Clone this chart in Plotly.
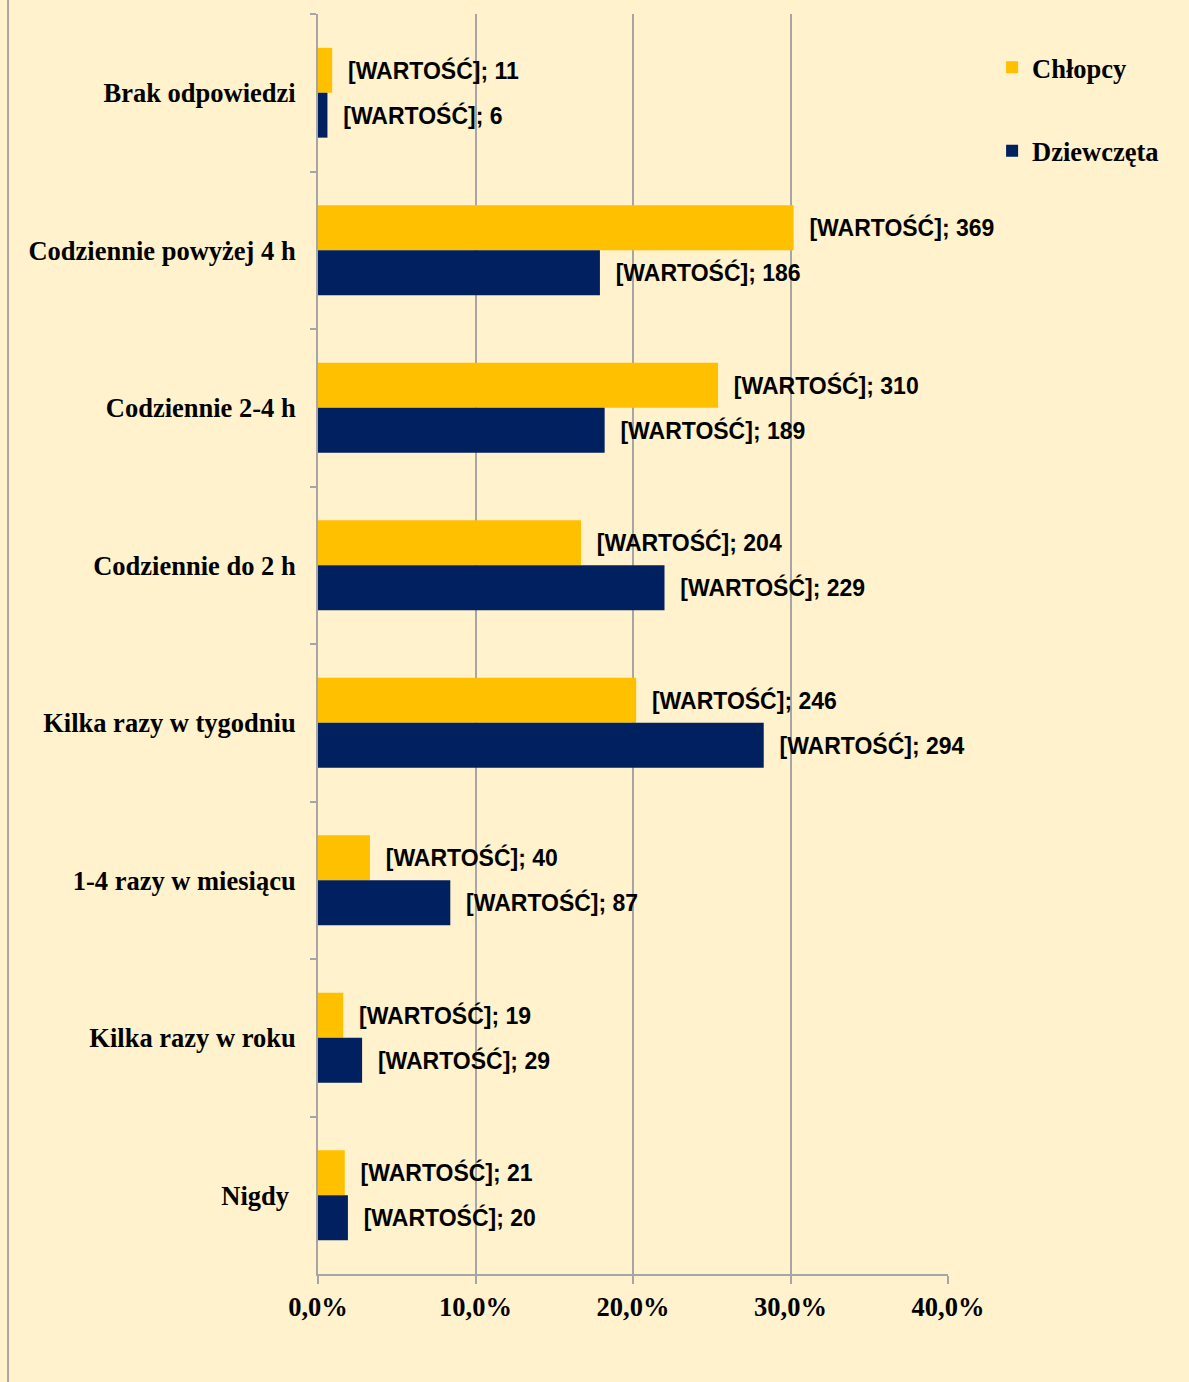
import plotly.graph_objects as go

categories = ["Brak odpowiedzi", "Codziennie powyżej 4 h", "Codziennie 2-4 h",
              "Codziennie do 2 h", "Kilka razy w tygodniu", "1-4 razy w miesiącu",
              "Kilka razy w roku", "Nigdy\u00a0"]
boys_pct = [0.9, 30.2, 25.4, 16.7, 20.2, 3.3, 1.6, 1.7]
girls_pct = [0.6, 17.9, 18.2, 22.0, 28.3, 8.4, 2.8, 1.9]
boys_n = [11, 369, 310, 204, 246, 40, 19, 21]
girls_n = [6, 186, 189, 229, 294, 87, 29, 20]
x_ticks = [0, 10, 20, 30, 40]
x_tick_labels = ["0,0%", "10,0%", "20,0%", "30,0%", "40,0%"]

BG = "#FFF2CC"
GRID = "#A6A6A6"
serif = "Liberation Serif"
sans = "Liberation Sans"
pad = "\u00a0\u00a0"
LBL = 23
TXT = 26.5

fig = go.Figure()
fig.add_trace(go.Bar(
    y=categories, x=boys_pct, orientation="h", name="Chłopcy",
    marker=dict(color="#FFC000", line=dict(width=0)),
    text=[f"{pad}[WARTOŚĆ]; {n}" for n in boys_n],
    textposition="outside", constraintext="none", cliponaxis=False,
    textfont=dict(family=sans, size=LBL, color="black", weight="bold"),
    legendgroup="a", hoverinfo="x+y",
))
fig.add_trace(go.Bar(
    y=categories, x=girls_pct, orientation="h", name="Dziewczęta",
    marker=dict(color="#002060", line=dict(width=0)),
    text=[f"{pad}[WARTOŚĆ]; {n}" for n in girls_n],
    textposition="outside", constraintext="none", cliponaxis=False,
    textfont=dict(family=sans, size=LBL, color="black", weight="bold"),
    legendgroup="b", hoverinfo="x+y",
))

fig.update_layout(
    width=1189, height=1382,
    paper_bgcolor=BG, plot_bgcolor=BG,
    margin=dict(l=318, r=241, t=14, b=108),
    barmode="group", bargap=0.43, bargroupgap=0,
    font=dict(family=serif, size=TXT, color="black"),
    legend=dict(
        x=1.07, y=0.9765, xanchor="left", yanchor="top",
        traceorder="grouped", tracegroupgap=46,
        font=dict(family=serif, size=TXT, color="black", weight="bold"),
        bgcolor="rgba(0,0,0,0)", itemwidth=30,
    ),
    showlegend=True,
)
fig.update_xaxes(
    range=[0, 40], tickvals=x_ticks, ticktext=x_tick_labels,
    showgrid=True, gridcolor=GRID, gridwidth=1.5,
    showline=True, linecolor=GRID, linewidth=2,
    ticks="outside", ticklen=8, tickcolor=GRID, tickwidth=2,
    tickfont=dict(family=serif, size=TXT, color="black", weight="bold"),
    zeroline=False, fixedrange=True,
)
fig.update_yaxes(
    autorange="reversed", type="category",
    showline=True, linecolor=GRID, linewidth=2,
    ticks="outside", ticklen=6, tickcolor=GRID, tickwidth=2,
    tickson="boundaries", showgrid=False,
    tickfont=dict(family=serif, size=TXT, color="black", weight="bold"),
    ticklabelstandoff=15,
)
fig.add_shape(type="line", xref="paper", yref="paper",
              x0=-0.492, x1=-0.492, y0=-0.1, y1=1.02,
              line=dict(color=GRID, width=2))

fig.write_html(
    "out.html",
    config={"displayModeBar": False},
    post_script="document.body.style.margin='0';document.body.style.background='#FFF2CC';",
)
